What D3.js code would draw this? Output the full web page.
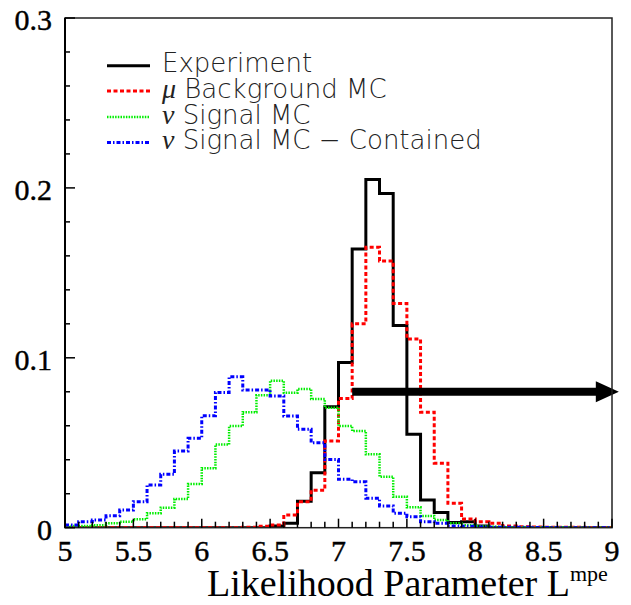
<!DOCTYPE html>
<html>
<head>
<meta charset="utf-8">
<script src="https://cdn.jsdelivr.net/npm/d3@7"></script>
<style>
  body { margin: 0; background: #fff; }
  svg { display: block; }
</style>
</head>
<body>
<svg id="chart" width="631" height="605"></svg>
<script>
// Histogram bins: 0.1 wide, from 5.0 to 9.0 (40 bins)
const binLo = 5, binHi = 9, binW = 0.1;

const experiment = [
  0, 0, 0, 0, 0, 0, 0, 0, 0, 0, 0, 0, 0, 0, 0,
  0.001, 0.0026, 0.0155, 0.0324, 0.0712, 0.0973, 0.164, 0.205, 0.1967, 0.119,
  0.055, 0.0163, 0.009, 0.003, 0.0035, 0.001,
  0, 0, 0, 0, 0, 0, 0, 0, 0
];
const muBackground = [
  0, 0, 0, 0, 0, 0, 0, 0, 0, 0, 0, 0, 0,
  0.0003, 0.0008, 0.0016, 0.0075, 0.0153, 0.022, 0.051, 0.076, 0.120, 0.165,
  0.157, 0.132, 0.111, 0.068, 0.038, 0.0144, 0.0051, 0.0035, 0.0026, 0.001,
  0.0006, 0.0004, 0.0003, 0.0002, 0.0002, 0.0001, 0.0001
];
const nuSignal = [
  0.001, 0.001, 0.0015, 0.0026, 0.0035, 0.005, 0.0085, 0.0118, 0.0169, 0.0257,
  0.035, 0.049, 0.0598, 0.068, 0.078, 0.0865, 0.0794, 0.0816, 0.0757, 0.0706,
  0.0598, 0.0569, 0.0432, 0.030, 0.0182, 0.012, 0.0069, 0.0045, 0.0026, 0.0015,
  0.0008, 0.0005, 0.0003, 0.0002, 0.0002, 0.0001, 0.0001, 0, 0, 0
];
const nuContained = [
  0.0016, 0.0035, 0.0045, 0.007, 0.0104, 0.0153, 0.0251, 0.0314, 0.0451, 0.0526,
  0.0659, 0.0796, 0.0888, 0.081, 0.081, 0.0775, 0.0657, 0.0579, 0.050, 0.0402,
  0.0285, 0.027, 0.0173, 0.0128, 0.0085, 0.0065, 0.0035, 0.0026, 0.001, 0.0008,
  0.0004, 0.0003, 0.0002, 0.0002, 0.0001, 0.0001, 0, 0, 0, 0
];

// cut arrow: from L = 7.1 onwards at height 0.08
const arrowFrom = 7.1, arrowTo = 9.05, arrowLevel = 0.08;

const xTicks = [5, 5.5, 6, 6.5, 7, 7.5, 8, 8.5, 9];
const yTicks = [0, 0.1, 0.2, 0.3];

const series = [
  { name: "Experiment", greek: "", values: experiment, color: "#000", dash: null, width: 3 },
  { name: " Background MC", greek: "\u03bc", values: muBackground, color: "#ff0000", dash: "4,2.5", width: 3 },
  { name: " Signal MC", greek: "\u03bd", values: nuSignal, color: "#00ee00", dash: "1.5,1.2", width: 2.5 },
  { name: " Signal MC \u2212 Contained", greek: "\u03bd", values: nuContained, color: "#0000ff", dash: "4,2,1.5,2", width: 3 }
];

const svg = d3.select("#chart");
const plotL = 65, plotR = 612, plotT = 18, plotB = 527.7;
const serif = "'Liberation Serif', 'Times New Roman', serif";

const x = d3.scaleLinear().domain([binLo, binHi]).range([plotL, plotR]);
const y = d3.scaleLinear().domain([0, 0.3]).range([plotB, plotT]);

svg.append("clipPath").attr("id", "plotclip")
  .append("rect").attr("x", plotL).attr("y", plotT)
  .attr("width", plotR - plotL).attr("height", plotB - plotT);

const plot = svg.append("g").attr("clip-path", "url(#plotclip)");

// step line through bin edges
const step = d3.line()
  .x(d => x(d[0]))
  .y(d => y(d[1]))
  .curve(d3.curveStepAfter);

function stepPoints(vals) {
  const pts = vals.map((v, i) => [binLo + i * binW, v]);
  pts.push([binHi, vals[vals.length - 1]]);
  return pts;
}

series.forEach(s => {
  plot.append("path")
    .attr("d", step(stepPoints(s.values)))
    .attr("fill", "none")
    .attr("stroke", s.color)
    .attr("stroke-width", s.width)
    .attr("stroke-dasharray", s.dash);
});

// arrow
const ay = y(arrowLevel);
svg.append("line")
  .attr("x1", x(arrowFrom)).attr("x2", x(arrowTo) - 20)
  .attr("y1", ay).attr("y2", ay)
  .attr("stroke", "#000").attr("stroke-width", 8);
svg.append("path")
  .attr("d", d3.line()([[x(arrowTo) - 23, ay - 10.5], [x(arrowTo), ay], [x(arrowTo) - 23, ay + 10.5]]))
  .attr("fill", "#000");

// frame
svg.append("rect")
  .attr("x", plotL).attr("y", plotT)
  .attr("width", plotR - plotL).attr("height", plotB - plotT)
  .attr("fill", "none").attr("stroke", "#222").attr("stroke-width", 1.5);

// x axis ticks (inside, pointing up)
const xMinor = d3.range(50, 91).map(d => d / 10);
svg.append("g").selectAll("line").data(xMinor).join("line")
  .attr("x1", d => x(d)).attr("x2", d => x(d))
  .attr("y1", plotB)
  .attr("y2", d => plotB - (Math.abs(d * 2 - Math.round(d * 2)) < 1e-6 ? 9 : 6))
  .attr("stroke", "#000").attr("stroke-width", 1.5);

svg.append("g").selectAll("text").data(xTicks).join("text")
  .attr("x", d => x(d)).attr("y", 561)
  .attr("text-anchor", "middle")
  .attr("font-family", serif)
  .attr("font-size", 30)
  .attr("stroke", "#000").attr("stroke-width", 0.4)
  .text(d => d);

// y axis ticks (inside, pointing right)
const yMinor = d3.range(0, 16).map(d => d * 0.02);
svg.append("g").selectAll("line").data(yMinor).join("line")
  .attr("x1", plotL)
  .attr("x2", (d, i) => plotL + (i % 5 === 0 ? 10 : 5))
  .attr("y1", d => y(d)).attr("y2", d => y(d))
  .attr("stroke", "#000").attr("stroke-width", 1.5);

svg.append("line")
  .attr("x1", plotL).attr("x2", plotL).attr("y1", plotT).attr("y2", plotB)
  .attr("stroke", "#000").attr("stroke-width", 2);

svg.append("g").selectAll("text").data(yTicks).join("text")
  .attr("x", 52).attr("y", d => y(d) + 12)
  .attr("text-anchor", "end")
  .attr("font-family", serif)
  .attr("font-size", 30)
  .attr("stroke", "#000").attr("stroke-width", 0.4)
  .text(d => d);

// axis title
const title = svg.append("text")
  .attr("x", 207).attr("y", 596)
  .attr("font-family", serif)
  .attr("font-size", 38);
title.append("tspan").text("Likelihood Parameter L");
title.append("tspan").attr("dy", -15).attr("font-size", 22).text("mpe");

// legend
const legend = svg.append("g");
const legY = [65.7, 91, 117, 142.5];
series.forEach((s, i) => {
  legend.append("line")
    .attr("x1", 107).attr("x2", 150)
    .attr("y1", legY[i]).attr("y2", legY[i])
    .attr("stroke", s.color)
    .attr("stroke-width", s.width)
    .attr("stroke-dasharray", s.dash);
  const t = legend.append("text")
    .attr("x", 162).attr("y", legY[i] + 6.5)
    .attr("font-family", "'DejaVu Sans', sans-serif")
    .attr("font-weight", 200)
    .attr("font-size", 26)
    .attr("fill", "#222");
  if (s.greek) {
    t.append("tspan")
      .attr("font-family", "'Liberation Serif', serif")
      .attr("font-style", "italic")
      .attr("font-size", 28)
      .text(s.greek);
  }
  t.append("tspan").text(s.name);
});
</script>
</body>
</html>
